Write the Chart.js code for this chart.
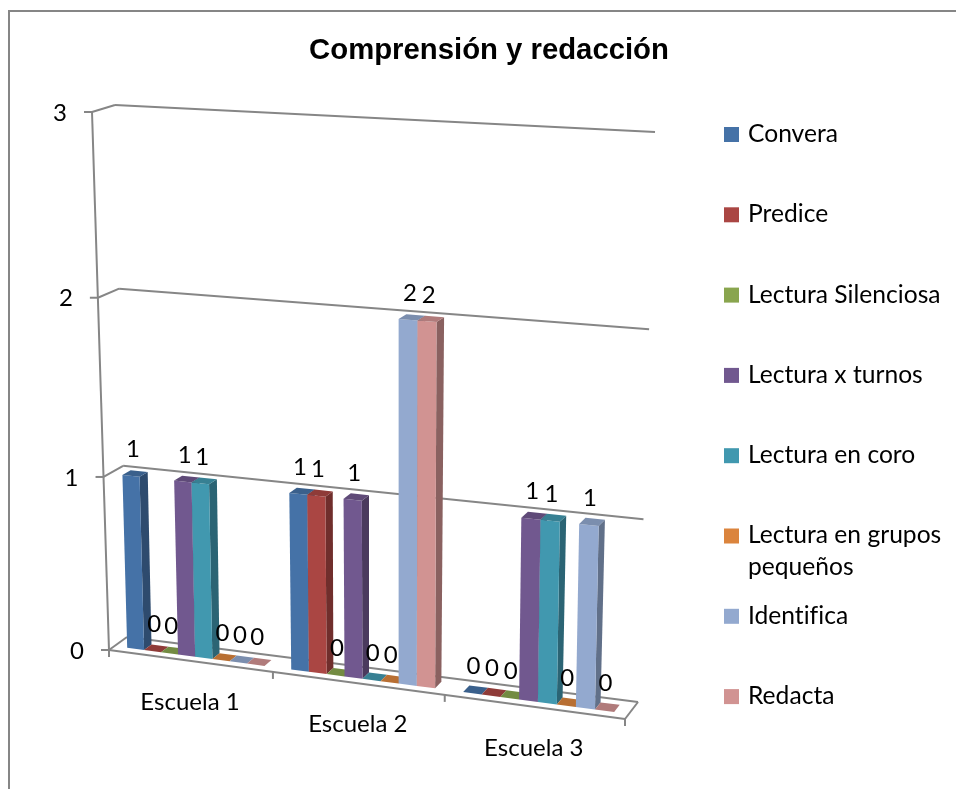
<!DOCTYPE html>
<html>
<head>
<meta charset="utf-8">
<title>Comprensión y redacción</title>
<script src="https://cdn.jsdelivr.net/npm/chart.js@4"></script>
<style>
  html, body { margin: 0; padding: 0; background: #fff; }
  canvas { display: block; }
</style>
</head>
<body>
<canvas id="comprension" width="956" height="789"></canvas>
<script>
var categories = ['Escuela 1', 'Escuela 2', 'Escuela 3'];
var seriesNames = ['Convera', 'Predice', 'Lectura Silenciosa', 'Lectura x turnos', 'Lectura en coro', 'Lectura en grupos pequeños', 'Identifica', 'Redacta'];
var convera = [1, 1, 0];
var predice = [0, 1, 0];
var silenciosa = [0, 0, 0];
var turnos = [1, 1, 1];
var coro = [1, 0, 1];
var grupos = [0, 0, 0];
var identifica = [0, 2, 1];
var redacta = [0, 2, 0];
var yTicks = [0, 1, 2, 3];
var seriesColors = ['#4572a7', '#aa4643', '#89a54e', '#71588f', '#4198af', '#db843d', '#93a9cf', '#d19392'];

var seriesValues = [convera, predice, silenciosa, turnos, coro, grupos, identifica, redacta];
var LABEL_FONT = '24px Lato';
var LEGEND_FONT = '24.6px Lato';
var AXIS_COLOR = '#868686';

// corners of the 3d box on the page: [x0y0, x1y0, x1y3, x0y3]
var backWall = [[127, 637], [638, 702], [655, 132], [115, 105]];
var frontWall = [[109, 650], [625, 719], [637, 143], [92, 112]];
var BAR_NEAR = 0.3;
var BAR_FAR = 0.72;

function makeHomography(q) {
  var dx1 = q[1][0] - q[2][0], dx2 = q[3][0] - q[2][0], sx = q[0][0] - q[1][0] + q[2][0] - q[3][0];
  var dy1 = q[1][1] - q[2][1], dy2 = q[3][1] - q[2][1], sy = q[0][1] - q[1][1] + q[2][1] - q[3][1];
  var den = dx1 * dy2 - dx2 * dy1;
  var g = (sx * dy2 - dx2 * sy) / den;
  var h = (dx1 * sy - sx * dy1) / den;
  var a = q[1][0] - q[0][0] + g * q[1][0], b = q[3][0] - q[0][0] + h * q[3][0];
  var d = q[1][1] - q[0][1] + g * q[1][1], e = q[3][1] - q[0][1] + h * q[3][1];
  return function(u, v) {
    var w = g * u + h * v + 1;
    return [(a * u + b * v + q[0][0]) / w, (d * u + e * v + q[0][1]) / w];
  };
}

var backMap = makeHomography(backWall);
var frontMap = makeHomography(frontWall);

// u and v are 0..1 across the chart area, depth 0 is the front of the floor
function project(u, v, depth) {
  var f = frontMap(u, v);
  var b = backMap(u, v);
  return [f[0] + (b[0] - f[0]) * depth, f[1] + (b[1] - f[1]) * depth];
}

function shade(hex, k) {
  var n = parseInt(hex.slice(1), 16);
  var r = Math.round((n >> 16) * k), g = Math.round(((n >> 8) & 255) * k), b = Math.round((n & 255) * k);
  return 'rgb(' + r + ',' + g + ',' + b + ')';
}

function fillPoly(ctx, pts, color) {
  ctx.beginPath();
  ctx.moveTo(pts[0][0], pts[0][1]);
  for (var i = 1; i < pts.length; i++) {
    ctx.lineTo(pts[i][0], pts[i][1]);
  }
  ctx.closePath();
  ctx.fillStyle = color;
  ctx.fill();
}

function strokeLine(ctx, a, b) {
  ctx.beginPath();
  ctx.moveTo(a[0], a[1]);
  ctx.lineTo(b[0], b[1]);
  ctx.stroke();
}

function setTextStyle(ctx, align, font) {
  ctx.fillStyle = '#000';
  ctx.font = font || LABEL_FONT;
  ctx.letterSpacing = '0.01px'; // no fi ligature
  ctx.textAlign = align;
  ctx.textBaseline = 'middle';
}

function drawFrame(chart) {
  var ctx = chart.ctx;
  ctx.strokeStyle = AXIS_COLOR;
  ctx.lineWidth = 2;
  strokeLine(ctx, [9, 789], [9, 11]);
  strokeLine(ctx, [8, 11], [956, 11]);
}

function drawBox(chart) {
  var ctx = chart.ctx;
  var yScale = chart.scales.y;
  var top = yScale.max;
  ctx.strokeStyle = AXIS_COLOR;
  ctx.lineWidth = 2;

  // walls and floor
  yTicks.forEach(function(t) {
    var v = t / top;
    var corner = project(0, v, 0);
    strokeLine(ctx, [corner[0] - 8, corner[1]], corner);
    strokeLine(ctx, corner, project(0, v, 1));
    strokeLine(ctx, project(0, v, 1), project(1, v, 1));
    setTextStyle(ctx, 'right');
    ctx.fillText(String(t), corner[0] - 25, corner[1] + 1);
  });
  strokeLine(ctx, project(0, 0, 0), project(0, 1, 0));
  strokeLine(ctx, project(0, 0, 0), project(1, 0, 0));
  strokeLine(ctx, project(1, 0, 0), project(1, 0, 1));

  // category ticks and labels
  categories.forEach(function(name, i) {
    var n = categories.length;
    var p = project(i / n, 0, 0);
    strokeLine(ctx, p, [p[0], p[1] + 7]);
    if (i === n - 1) {
      p = project(1, 0, 0);
      strokeLine(ctx, p, [p[0], p[1] + 7]);
    }
    var c = project((i + 0.5) / n, 0, 0);
    setTextStyle(ctx, 'center');
    ctx.fillText(name, c[0], c[1] + 41);
  });
}

function drawBars(chart) {
  var ctx = chart.ctx;
  var area = chart.chartArea;
  var labels = [];

  categories.forEach(function(cat, c) {
    seriesValues.forEach(function(values, s) {
      var bar = chart.getDatasetMeta(s).data[c];
      var u0 = (bar.x - bar.width / 2 - area.left) / area.width;
      var u1 = (bar.x + bar.width / 2 - area.left) / area.width;
      var v = (area.bottom - bar.y) / area.height;
      var color = seriesColors[s];

      var fl = project(u0, v, BAR_NEAR), fr = project(u1, v, BAR_NEAR);
      var bl = project(u0, v, BAR_FAR), br = project(u1, v, BAR_FAR);
      var fl0 = project(u0, 0, BAR_NEAR), fr0 = project(u1, 0, BAR_NEAR);
      var br0 = project(u1, 0, BAR_FAR);

      if (values[c] > 0) {
        fillPoly(ctx, [fr, br, br0, fr0], shade(color, 0.66));
        fillPoly(ctx, [fl, fr, fr0, fl0], color);
      }
      fillPoly(ctx, [fl, fr, br, bl], shade(color, 0.84));

      var mid = project((u0 + u1) / 2, v, (BAR_NEAR + BAR_FAR) / 2);
      labels.push({ x: mid[0] - 2, y: mid[1] - 24, text: String(values[c]) });
    });
  });

  // labels go over every bar
  setTextStyle(ctx, 'center');
  labels.forEach(function(l) {
    ctx.fillText(l.text, l.x, l.y);
  });
}

function drawLegend(chart) {
  var ctx = chart.ctx;
  var legendTop = 134;
  var legendStep = 80.3;
  chart.data.datasets.forEach(function(ds, i) {
    var y = legendTop + i * legendStep;
    ctx.fillStyle = ds.backgroundColor;
    ctx.fillRect(724, y - 7, 15, 15);
    setTextStyle(ctx, 'left', LEGEND_FONT);
    if (ds.label === 'Lectura en grupos pequeños') {
      ctx.fillText('Lectura en grupos', 748, y);
      ctx.fillText('pequeños', 748, y + 32);
    } else {
      ctx.fillText(ds.label, 748, y);
    }
  });
}

var box3d = {
  id: 'box3d',
  beforeDatasetsDraw: function(chart) {
    drawFrame(chart);
    drawBox(chart);
    drawBars(chart);
    drawLegend(chart);
    return false;
  }
};

function printChart() {
  var datasets = [];
  for (var i = 0; i < seriesNames.length; i++) {
    datasets.push({
      label: seriesNames[i],
      data: seriesValues[i],
      backgroundColor: seriesColors[i],
      categoryPercentage: 0.84,
      barPercentage: 1
    });
  }

  var ctx = document.getElementById('comprension').getContext('2d');
  new Chart(ctx, {
    type: 'bar',
    data: {
      labels: categories,
      datasets: datasets
    },
    options: {
      responsive: false,
      animation: false,
      layout: { padding: { left: 22, top: 33, right: 0, bottom: 40 } },
      scales: {
        x: { display: false },
        y: { display: false, min: 0, max: 3 }
      },
      plugins: {
        legend: { display: false },
        tooltip: { enabled: false },
        title: {
          display: true,
          text: 'Comprensión y redacción',
          color: '#000',
          font: { family: 'Liberation Sans', size: 29.3, weight: 'bold' },
          padding: { top: 0, bottom: 10 }
        }
      }
    },
    plugins: [box3d]
  });
}

printChart();
</script>
</body>
</html>
